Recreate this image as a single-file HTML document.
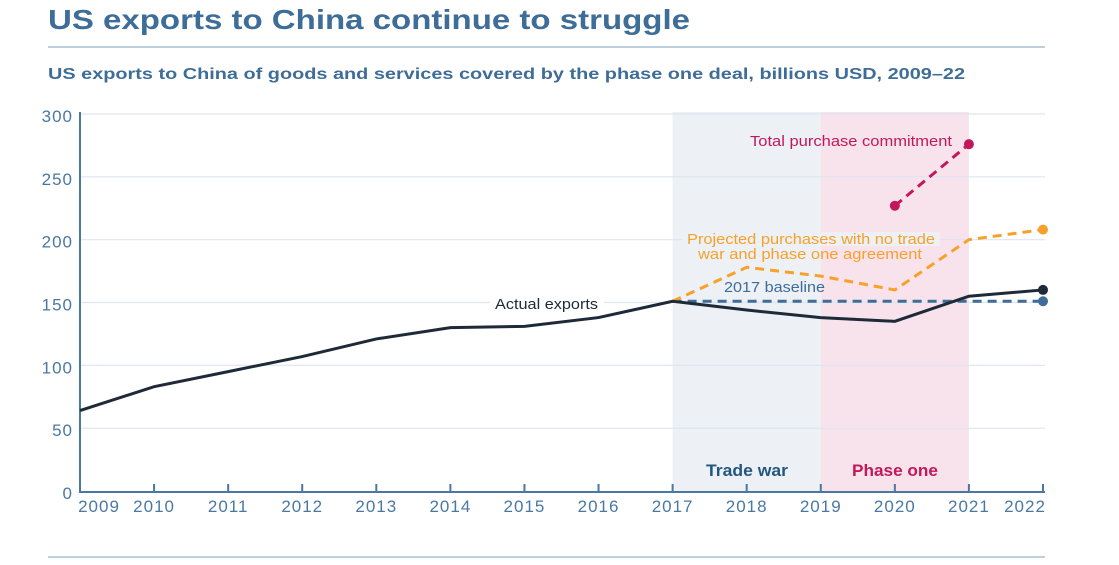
<!DOCTYPE html>
<html><head><meta charset="utf-8"><style>
body{margin:0;background:#fff;width:1119px;height:565px;overflow:hidden;font-family:"Liberation Sans",sans-serif}
</style></head><body>
<svg width="1119" height="565" style="position:absolute;left:0;top:0">
<text x="48" y="29" font-size="28" font-weight="bold" fill="#3e6d98" textLength="642" lengthAdjust="spacingAndGlyphs">US exports to China continue to struggle</text>
<line x1="48" y1="47" x2="1045" y2="47" stroke="#a9bfd4" stroke-width="1.5"/>
<text x="48" y="79" font-size="16" font-weight="bold" fill="#3e6d98" textLength="917" lengthAdjust="spacingAndGlyphs">US exports to China of goods and services covered by the phase one deal, billions USD, 2009–22</text>
<line x1="48" y1="557" x2="1045" y2="557" stroke="#a9bfd4" stroke-width="1.5"/>
<g id="plot"></g>
</svg>
<script>
const years=[2009,2010,2011,2012,2013,2014,2015,2016,2017,2018,2019,2020,2021,2022];
const actual=[64,83,95,107,121,130,131,138,151,144,138,135,155,160];
const projYears=[2017,2018,2019,2020,2021,2022];
const projected=[151,178,171,160,200,208];
const commitYears=[2020,2021];
const commitment=[227,276];
const baseYears=[2017,2022];
const baseline=[151,151];
const yTicks=[0,50,100,150,200,250,300];
const ns='http://www.w3.org/2000/svg';
const g=document.getElementById('plot');
const X=y=>80+(y-2009)*(1043-80)/13;
const Y=v=>491-v*(491-114)/300;
function el(t,a,p){const e=document.createElementNS(ns,t);for(const k in a)e.setAttribute(k,a[k]);(p||g).appendChild(e);return e;}
let r=el('rect',{x:X(2017),y:112,width:X(2019)-X(2017),height:491-112,fill:'#edf0f5'});


r=el('rect',{x:X(2019),y:112,width:X(2021)-X(2019),height:491-112,fill:'#f8e3ec'});


yTicks.forEach(v=>{
 if(v>0){const l=el('line',{x1:80,x2:1045,y1:Y(v),y2:Y(v),stroke:'#dde5ef','stroke-width':1.2});
 
 }
 const t=el('text',{x:73,y:Y(v)+8,'text-anchor':'end','font-size':17,fill:'#4a78a2','letter-spacing':1});t.textContent=v;
 
 
});
let ax=el('line',{x1:80,x2:80,y1:112,y2:492,stroke:'#4a78a2','stroke-width':2});


ax=el('line',{x1:79,x2:1045,y1:492,y2:492,stroke:'#4a78a2','stroke-width':2});


years.forEach(y=>{
 const tk=el('line',{x1:X(y),x2:X(y),y1:484,y2:492,stroke:'#4a78a2','stroke-width':2});
 
 
 const t=el('text',{x:X(y)+(y==2009?19:y==2022?-18:0),y:512,'text-anchor':'middle','font-size':17,fill:'#4a78a2','letter-spacing':1});t.textContent=y;
 
 
});
function line(xs,vs,col,dash,name,w){
 const p=el('polyline',{points:xs.map((x,i)=>X(x)+','+Y(vs[i])).join(' '),fill:'none',stroke:col,'stroke-width':w||3,'stroke-dasharray':dash||'none'});
 
 
}
line(baseYears,baseline,'#3e6d98','9 6','baseline-line');
line(projYears,projected,'#f7a12a','9 6','projected-line');
line(commitYears,commitment,'#c2185b','9 6','commitment-line');
line(years,actual,'#1e2a38',null,'actual-exports-line');
function dot(x,v,c,n){const d=el('circle',{cx:X(x),cy:Y(v),r:5,fill:c});
 
 }
dot(2022,actual[13],'#1e2a38','actual-end-dot');
dot(2022,baseline[1],'#3e6d98','baseline-end-dot');
dot(2022,projected[5],'#f7a12a','projected-end-dot');
dot(commitYears[0],commitment[0],'#c2185b','commitment-start-dot');
dot(commitYears[1],commitment[1],'#c2185b','commitment-end-dot');
function label(x,y,s,c,fs,n,len,wt,bg){
 if(bg){const b=el('rect',bg);b.setAttribute('fill',bg.f||'#fff');}
 const t=el('text',{x:x,y:y,'font-size':fs,fill:c,'font-weight':wt||'normal',textLength:len,lengthAdjust:'spacingAndGlyphs'});t.textContent=s;
 
 
}
label(750,146,'Total purchase commitment','#c2185b',15,'commitment-label',202);
label(687,244,'Projected purchases with no trade','#f7a12a',15,'projected-label-1',248,null,{x:682,y:232,width:258,height:14,f:'#edf0f5'});
label(698,259,'war and phase one agreement','#f7a12a',15,'projected-label-2',224);
label(724,292,'2017  baseline','#3e6d98',15,'baseline-label',101);
label(495,309,'Actual exports','#1e2a38',15,'actual-label',103,null,{x:490,y:294,width:114,height:20});
label(706,476,'Trade war','#24577f',17,'trade-war-label',82,'bold');
label(852,476,'Phase one','#c2185b',17,'phase-one-label',86,'bold');
</script>
</body></html>
